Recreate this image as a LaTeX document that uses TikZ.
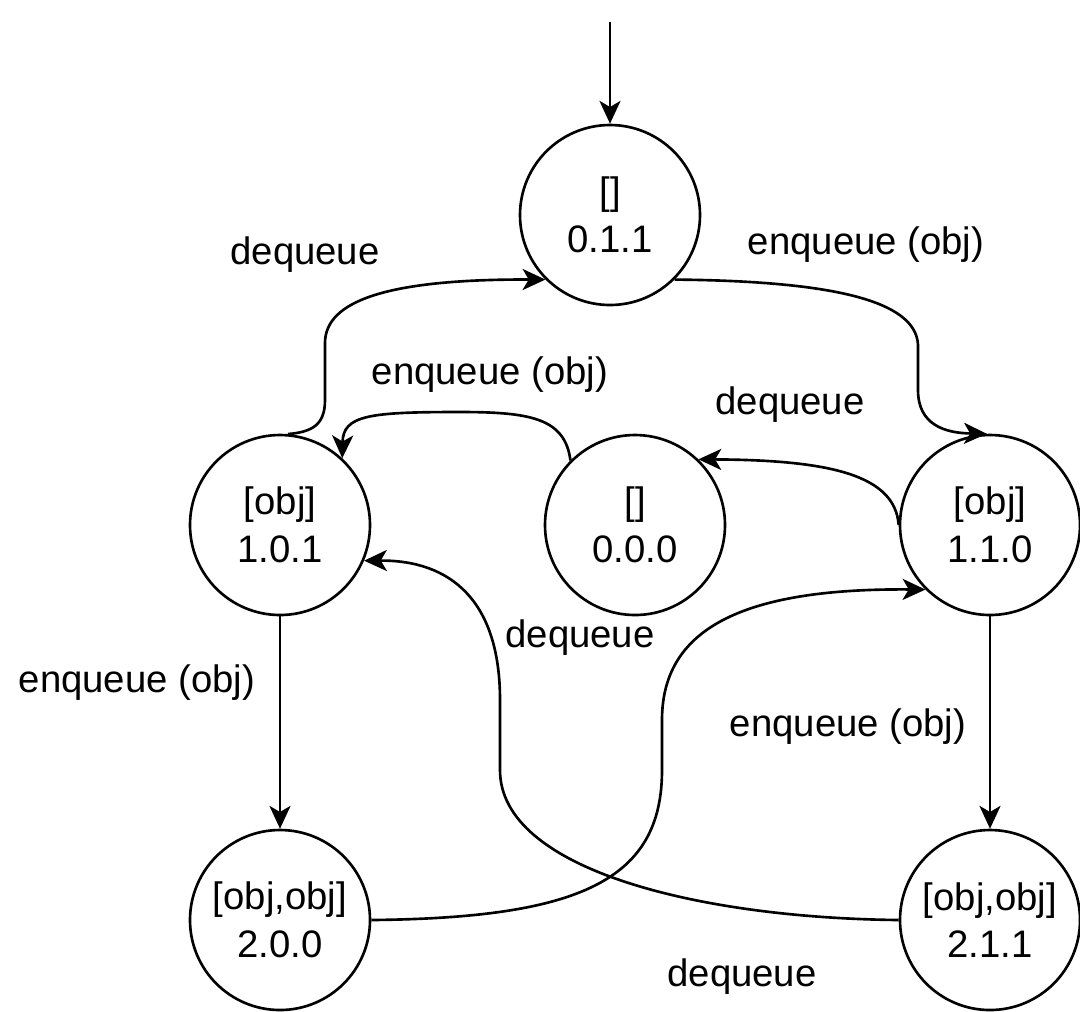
\documentclass[tikz,border=0pt]{standalone}
\usepackage{fontspec}
\setmainfont{Liberation Sans}
\usepackage{tikz}
\usetikzlibrary{calc}
\usetikzlibrary{positioning}
\usetikzlibrary{arrows.meta}

\begin{document}
\begin{tikzpicture}[font=\fontsize{21.8}{27}\selectfont,
		>={Stealth[length=13pt,width=12pt,inset=3.5pt]},
		qstate/.style={circle, draw, line width=1.5pt, minimum size=3.6cm, inner sep=0pt, align=center}]
				\useasboundingbox (0,0) rectangle (21.6,-20.22);
				\node[qstate] (0) at (12.2,-4.3) {[]\\0.1.1};
				\node[qstate] (1) at (5.6,-10.5) {[obj]\\1.0.1};
				\node[qstate] (2) at (12.7,-10.5) {[]\\0.0.0};
				\node[qstate] (3) at (19.8,-10.5) {[obj]\\1.1.0};
				\node[qstate] (4) at (5.6,-18.4) {[obj,obj]\\2.0.0};
				\node[qstate] (5) at (19.8,-18.4) {[obj,obj]\\2.1.1};
				\coordinate (init) at (12.2,-0.44);
				
				\draw[line width=1.5pt, ->]  (init) -- (0);
				\draw[line width=1.5pt, ->]  (1.85) .. controls (6.24,-8.64) and (6.5,-8.5) .. (6.5,-8.0) -- (6.5,-6.86) .. controls (6.5,-6.0) and (7.8,-5.58) .. (0.225);
				\draw[line width=1.5pt, ->]  (0.-45) .. controls (16.6,-5.62) and (18.32,-6.0) .. (18.36,-6.9) -- (18.36,-7.8) .. controls (18.36,-8.5) and (18.9,-8.66) .. (3.92);
				\draw[line width=1.5pt, ->]  (2.135) .. controls (11.3,-8.36) and (10.6,-8.24) .. (9.2,-8.24) .. controls (7.4,-8.24) and (6.86,-8.3) .. (1.47);
				\draw[line width=1.5pt, ->]  (3.west) .. controls (17.9,-9.5) and (16.6,-9.2) .. (2.46);
				\draw[line width=1.5pt, ->]  (1) -- (4);
				\draw[line width=1.5pt, ->]  (3) -- (5);
				\draw[line width=1.5pt, ->]  (4.east) .. controls (11.6,-18.36) and (13.24,-17.6) .. (13.24,-15.4) -- (13.24,-14.4) .. controls (13.24,-12.6) and (14.8,-11.76) .. (3.225);
				\draw[line width=1.5pt, ->]  (5.west) .. controls (14.0,-18.36) and (10.0,-17.4) .. (10.0,-15.4) -- (10.0,-14.0) .. controls (10.0,-12.0) and (9.0,-11.2) .. (1.-23);
				
				\node (l0) at (6.1,-5.1) {dequeue};
				\node (l1) at (17.32,-4.9) {enqueue (obj)};
				\node (l2) at (9.8,-7.5) {enqueue (obj)};
				\node (l3) at (15.8,-8.1) {dequeue};
				\node (l4) at (2.74,-13.66) {enqueue (obj)};
				\node (l5) at (16.96,-14.54) {enqueue (obj)};
				\node (l6) at (11.6,-12.76) {dequeue};
				\node (l7) at (14.84,-19.54) {dequeue};
			\end{tikzpicture}
\end{document}
